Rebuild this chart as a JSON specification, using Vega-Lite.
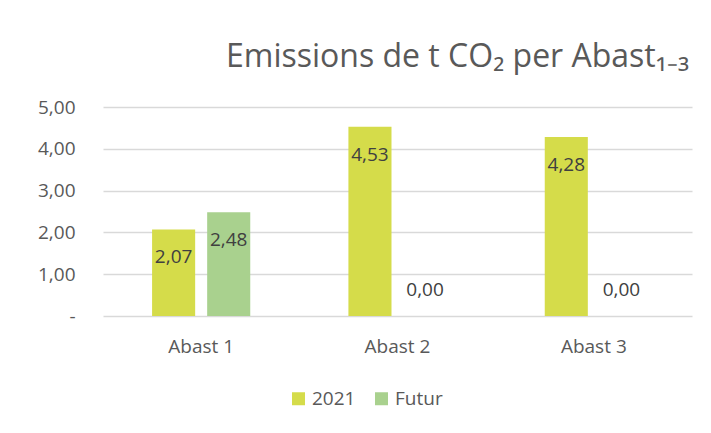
{
  "$schema": "https://vega.github.io/schema/vega-lite/v6.json",
  "width": 589,
  "height": 209,
  "autosize": {"type": "none"},
  "padding": {"left": 103, "top": 107, "right": 19, "bottom": 117},
  "background": "white",
  "config": {
    "font": "Open Sans",
    "locale": {"number": {"decimal": ",", "thousands": ".", "grouping": [3], "currency": ["", " €"]}},
    "view": {"stroke": null},
    "axis": {"labelFont": "Open Sans", "labelColor": "#595959", "labelFontSize": 19},
    "axisY": {"labelPadding": 28}
  },
  "title": {
    "text": "Emissions de t CO₂ per Abast₁₋₃",
    "anchor": "end",
    "orient": "top",
    "baseline": "alphabetic",
    "offset": -1,
    "dx": -3,
    "fontSize": 32,
    "fontWeight": "normal",
    "font": "Open Sans",
    "color": "#595959"
  },
  "data": {
    "values": [
      {"abast": "Abast 1", "serie": "2021", "value": 2.07},
      {"abast": "Abast 1", "serie": "Futur", "value": 2.48},
      {"abast": "Abast 2", "serie": "2021", "value": 4.53},
      {"abast": "Abast 2", "serie": "Futur", "value": 0},
      {"abast": "Abast 3", "serie": "2021", "value": 4.28},
      {"abast": "Abast 3", "serie": "Futur", "value": 0}
    ]
  },
  "encoding": {
    "x": {
      "field": "abast",
      "type": "nominal",
      "sort": null,
      "scale": {"paddingInner": 0.5, "paddingOuter": 0.25},
      "axis": {"title": null, "labelAngle": 0, "domain": false, "ticks": false, "grid": false, "labelPadding": 21}
    },
    "xOffset": {
      "field": "serie",
      "type": "nominal",
      "scale": {"paddingInner": 0.218, "paddingOuter": 0}
    },
    "y": {
      "field": "value",
      "type": "quantitative",
      "scale": {"domain": [0, 5], "nice": false},
      "axis": {
        "title": null,
        "values": [0, 1, 2, 3, 4, 5],
        "labelExpr": "datum.value == 0 ? '-' : format(datum.value, '.2f')",
        "domain": false,
        "ticks": true,
        "tickSize": 0,
        "tickWidth": 0,
        "labelAlign": "right",
        "labelPadding": 28,
        "gridColor": "#d9d9d9",
        "gridWidth": 1.5
      }
    }
  },
  "layer": [
    {
      "mark": {"type": "bar"},
      "encoding": {
        "color": {
          "field": "serie",
          "type": "nominal",
          "scale": {"domain": ["2021", "Futur"], "range": ["#d5dc4a", "#a9d18e"]},
          "legend": {
            "title": null,
            "orient": "none",
            "direction": "horizontal",
            "legendX": 186,
            "legendY": 282,
            "symbolType": "square",
            "symbolSize": 169,
            "symbolStrokeWidth": 0,
            "labelFontSize": 19,
            "labelColor": "#595959",
            "labelFont": "Open Sans",
            "labelOffset": 4,
            "columnPadding": 16
          }
        }
      }
    },
    {
      "transform": [{"filter": "datum.value > 0"}],
      "mark": {"type": "text", "baseline": "middle", "dy": 28, "fontSize": 19, "color": "#404040"},
      "encoding": {"text": {"field": "value", "type": "quantitative", "format": ".2f"}}
    },
    {
      "transform": [{"filter": "datum.value == 0"}],
      "mark": {"type": "text", "baseline": "middle", "dy": -26, "fontSize": 19, "color": "#404040"},
      "encoding": {"text": {"field": "value", "type": "quantitative", "format": ".2f"}}
    }
  ]
}
